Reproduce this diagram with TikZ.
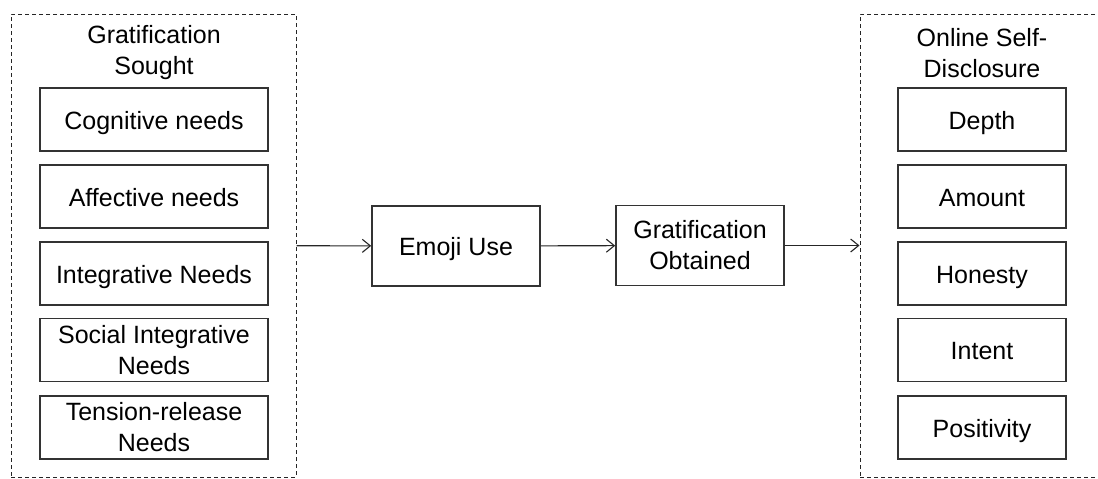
\documentclass[tikz,border=0pt]{standalone}
\usepackage{fontspec}
\setmainfont{Liberation Sans}
\usetikzlibrary{arrows.meta}

\begin{document}
\begin{tikzpicture}[x=0.5pt, y=-0.5pt, font=\fontsize{12.5}{15.5}\selectfont,
    group/.style={draw=black!85, line width=0.5pt, dash pattern=on 2pt off 1.5pt, inner sep=0pt},
    need/.style={draw=black!80, line width=0.8pt, minimum width=114pt, minimum height=31.5pt, inner sep=0pt, align=center},
    oneline/.style={text height=10.5pt, text depth=1pt},
    aspect/.style={need, oneline, minimum width=84pt},
    stage/.style={need, minimum width=84pt, minimum height=40pt},
    link/.style={-{Straight Barb[length=4pt, width=6.5pt]}, line width=0.55pt, draw=black!85}]
    \useasboundingbox (0,0) rectangle (1098,478);

    \node[group, minimum width=142.5pt, minimum height=231.5pt] (sought) at (153.5,245.5) {};
    \node[align=center] (soughttitle) at (154,53) {Gratification\\Sought};
    \node[need, oneline] (cognitive)   at (154,119.5) {Cognitive needs};
    \node[need, oneline] (affective)   at (154,196.5) {Affective needs};
    \node[need, oneline] (integrative) at (154,273.5) {Integrative Needs};
    \node[need] (social)      at (154,350)   {Social Integrative\\Needs};
    \node[need] (tension)     at (154,427.5) {Tension-release\\Needs};

    \node[stage, oneline] (emoji) at (456,246) {Emoji Use};
    \node[stage] (obtained) at (700,245.5) {Gratification\\Obtained};

    \node[group, minimum width=125pt, minimum height=231.5pt] (disclosure) at (985,245.5) {};
    \node[align=center] (disclosuretitle) at (982,53) {Online Self-\\Disclosure};
    \node[aspect] (depth)      at (982,119.5) {Depth};
    \node[aspect] (amount)     at (982,196.5) {Amount};
    \node[aspect] (honesty)    at (982,273.5) {Honesty};
    \node[aspect] (intent)     at (982,350)   {Intent};
    \node[aspect] (positivity) at (982,427.5) {Positivity};

    \draw[link] (sought) -- (emoji);
    \draw[link] (emoji) -- (obtained);
    \draw[link] (obtained) -- (disclosure);
\end{tikzpicture}
\end{document}
